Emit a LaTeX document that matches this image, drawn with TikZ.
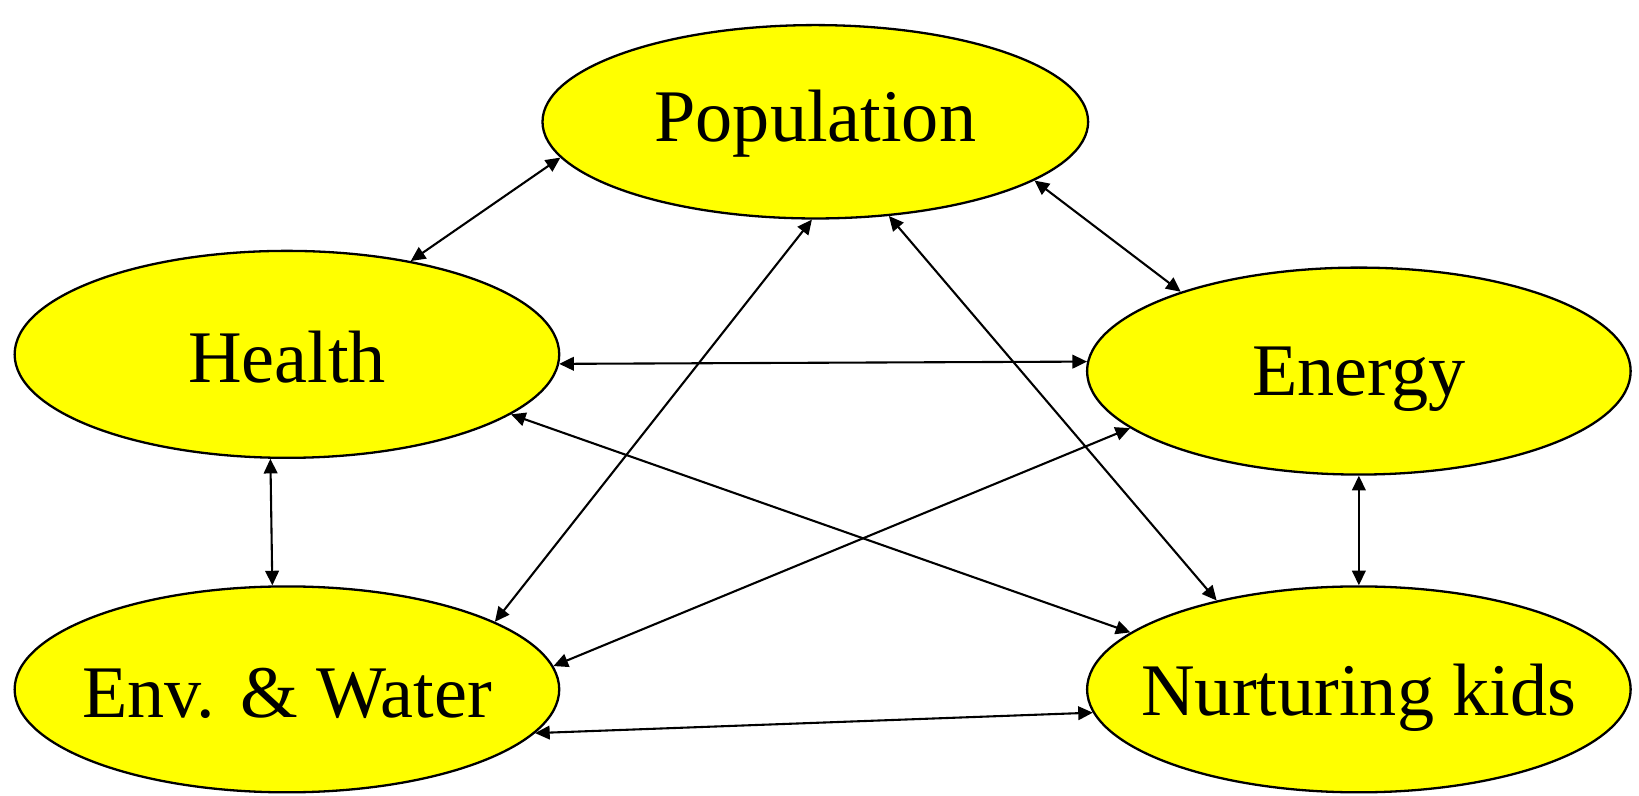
\documentclass[tikz,border=0pt]{standalone}
\usepackage{fontspec}
\setmainfont{Liberation Serif}
\usetikzlibrary{shapes.geometric,arrows.meta}
\definecolor{nodeyellow}{RGB}{255,255,0}
\newcommand{\lowered}[2]{\makebox[0pt]{\raisebox{-#1}[\height][\depth]{#2}}}
\begin{document}
\begin{tikzpicture}[x=0.5pt,y=-0.5pt,
  topic/.style={ellipse, draw=black, line width=1.1pt, fill=nodeyellow, inner sep=0pt,
    font=\fontsize{35.5pt}{40pt}\selectfont},
  link/.style={line width=1pt, {Triangle[length=7pt,width=6.5pt]}-{Triangle[length=7pt,width=6.5pt]}}]
\useasboundingbox (0,0) rectangle (1568,761);
\node[topic, minimum width=261pt, minimum height=92.5pt] (pop) at (780,116.5) {\lowered{1pt}{Population}};
\node[topic, minimum width=260.5pt, minimum height=99pt] (health) at (274.5,339) {\lowered{1.5pt}{Health}};
\node[topic, minimum width=260pt, minimum height=99pt] (energy) at (1300,355) {\lowered{4pt}{Energy}};
\node[topic, minimum width=260.5pt, minimum height=98.5pt] (env) at (274.5,659.5) {\lowered{2pt}{Env. \& Water}};
\node[topic, minimum width=260pt, minimum height=98.5pt] (nurt) at (1300,659.5) {\lowered{4pt}{Nurturing kids}};
\draw[link] (pop.188.2) -- (health.37.9);
\draw[link] (pop.345.4) -- (energy.156.2);
\draw[link] (pop.268.8) -- (env.18.4);
\draw[link] (pop.308.8) -- (nurt.148.4);
\draw[link] (health.358.3) -- (energy.178.2);
\draw[link] (health.345.1) -- (nurt.166.3);
\draw[link] (health.261.8) -- (env.98.4);
\draw[link] (energy.194.8) -- (env.5.4);
\draw[link] (energy.270) -- (nurt.90);
\draw[link] (env.350.7) -- (nurt.185.7);
\end{tikzpicture}
\end{document}
